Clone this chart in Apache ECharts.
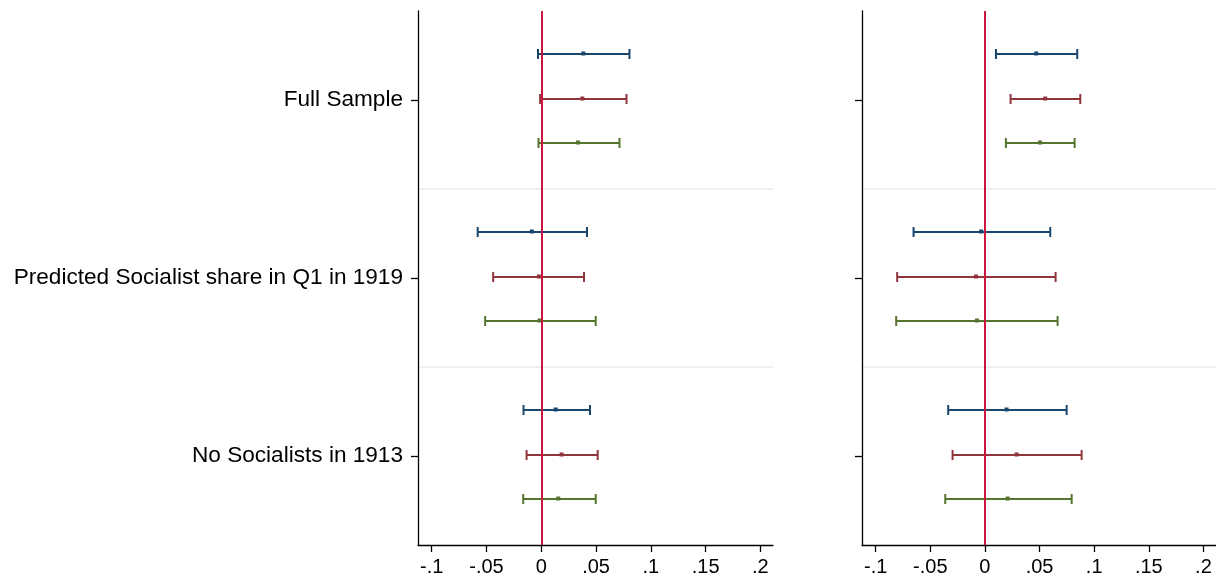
<!DOCTYPE html>
<html>
<head>
<meta charset="utf-8">
<title>Coefficient plot</title>
<script src="https://cdn.jsdelivr.net/npm/echarts@6/dist/echarts.min.js"></script>
<style>
  html, body { margin: 0; padding: 0; background: #fff; }
  #chart { width: 1216px; height: 582px; }
</style>
</head>
<body>
<div id="chart"></div>
<script>
// groups, top to bottom
var groups = ['Full Sample', 'Predicted Socialist share in Q1 in 1919', 'No Socialists in 1913'];
var xTicks = [-0.1, -0.05, 0, 0.05, 0.1, 0.15, 0.2];

// left panel: [low, high, estimate] per group
var leftBlue  = [[-0.003, 0.0805, 0.0384], [-0.058, 0.0417, -0.0086], [-0.0162, 0.0445, 0.0131]];
var leftRed   = [[-0.001, 0.0778, 0.0375], [-0.0439, 0.039, -0.0022], [-0.0134, 0.0515, 0.0186]];
var leftGreen = [[-0.0025, 0.0714, 0.0335], [-0.0512, 0.0497, -0.0016], [-0.0165, 0.0497, 0.0155]];

// right panel
var rightBlue  = [[0.0101, 0.0845, 0.047], [-0.0653, 0.0598, -0.0034], [-0.0336, 0.0748, 0.0198]];
var rightRed   = [[0.0235, 0.0873, 0.0552], [-0.0803, 0.0647, -0.0082], [-0.0296, 0.0885, 0.029]];
var rightGreen = [[0.0192, 0.0821, 0.0504], [-0.0812, 0.0665, -0.0073], [-0.0363, 0.0794, 0.0208]];

var colBlue = '#1a476f', colRed = '#90353b', colGreen = '#55752f';
var zeroCol = '#c8163f';
var font = 'Liberation Sans, Arial, Helvetica, sans-serif';

function fmtTick(v) {
  if (Math.abs(v) < 1e-9) return '0';
  var s = String(Math.round(v * 100) / 100);
  return s.replace('0.', '.');
}

function toData(arr) {
  return arr.map(function (d, i) { return [d[0], d[1], d[2], i]; });
}

function barSeries(idx, arr, color, offset) {
  return {
    type: 'custom',
    xAxisIndex: idx,
    yAxisIndex: idx,
    data: toData(arr),
    encode: { x: [0, 1, 2], y: 3 },
    z: 2,
    renderItem: function (params, api) {
      var band = api.size([0, 1])[1];
      var lo = api.coord([api.value(0), api.value(3)]);
      var hi = api.coord([api.value(1), api.value(3)]);
      var pt = api.coord([api.value(2), api.value(3)]);
      var y = Math.round(lo[1] + offset * band);
      var st = { stroke: color, lineWidth: 2 };
      return {
        type: 'group',
        children: [
          { type: 'line', shape: { x1: lo[0], y1: y, x2: hi[0], y2: y }, style: st },
          { type: 'line', shape: { x1: lo[0], y1: y - 5, x2: lo[0], y2: y + 5 }, style: st },
          { type: 'line', shape: { x1: hi[0], y1: y - 5, x2: hi[0], y2: y + 5 }, style: st },
          { type: 'rect', shape: { x: pt[0] - 2, y: y - 2.5, width: 4, height: 4 }, style: { fill: color } }
        ]
      };
    }
  };
}

function xAxisFor(idx) {
  return {
    gridIndex: idx,
    type: 'value',
    min: -0.1125,
    max: 0.2115,
    axisLine: { show: true, onZero: false, lineStyle: { color: '#000', width: 1.3 } },
    axisTick: { show: true, customValues: xTicks, length: 7, lineStyle: { color: '#000', width: 1.3 } },
    axisLabel: { customValues: xTicks, formatter: fmtTick, color: '#000', fontSize: 20, fontFamily: font, margin: 12 },
    splitLine: { show: false }
  };
}

function yAxisFor(idx, showLabels) {
  return {
    gridIndex: idx,
    type: 'category',
    data: groups,
    inverse: true,
    axisLine: { show: true, onZero: false, lineStyle: { color: '#000', width: 1.3 } },
    axisTick: { show: true, alignWithLabel: true, length: 7, lineStyle: { color: '#000', width: 1.3 } },
    axisLabel: { show: showLabels, color: '#000', fontSize: 22.6, fontFamily: font, margin: 15 },
    splitLine: { show: true, lineStyle: { color: ['rgba(0,0,0,0)', '#eaeaea', '#eaeaea', 'rgba(0,0,0,0)'], width: 1.5 } }
  };
}

function zeroLine(idx) {
  return {
    type: 'custom',
    xAxisIndex: idx,
    yAxisIndex: idx,
    data: [],
    renderItem: function () {},
    markLine: {
      silent: true,
      symbol: 'none',
      label: { show: false },
      z: 10,
      lineStyle: { color: zeroCol, width: 2, type: 'solid' },
      data: [{ xAxis: 0 }]
    }
  };
}

var chart = echarts.init(document.getElementById('chart'));
chart.setOption({
  backgroundColor: '#fff',
  animation: false,
  grid: [
    { left: 418, width: 355, top: 11, bottom: 37 },
    { left: 862, right: 0, top: 11, bottom: 37 }
  ],
  xAxis: [xAxisFor(0), xAxisFor(1)],
  yAxis: [yAxisFor(0, true), yAxisFor(1, false)],
  series: [
    barSeries(0, leftBlue, colBlue, -0.258),
    barSeries(0, leftRed, colRed, -0.007),
    barSeries(0, leftGreen, colGreen, 0.242),
    barSeries(1, rightBlue, colBlue, -0.258),
    barSeries(1, rightRed, colRed, -0.007),
    barSeries(1, rightGreen, colGreen, 0.242),
    zeroLine(0),
    zeroLine(1)
  ]
});
</script>
</body>
</html>
